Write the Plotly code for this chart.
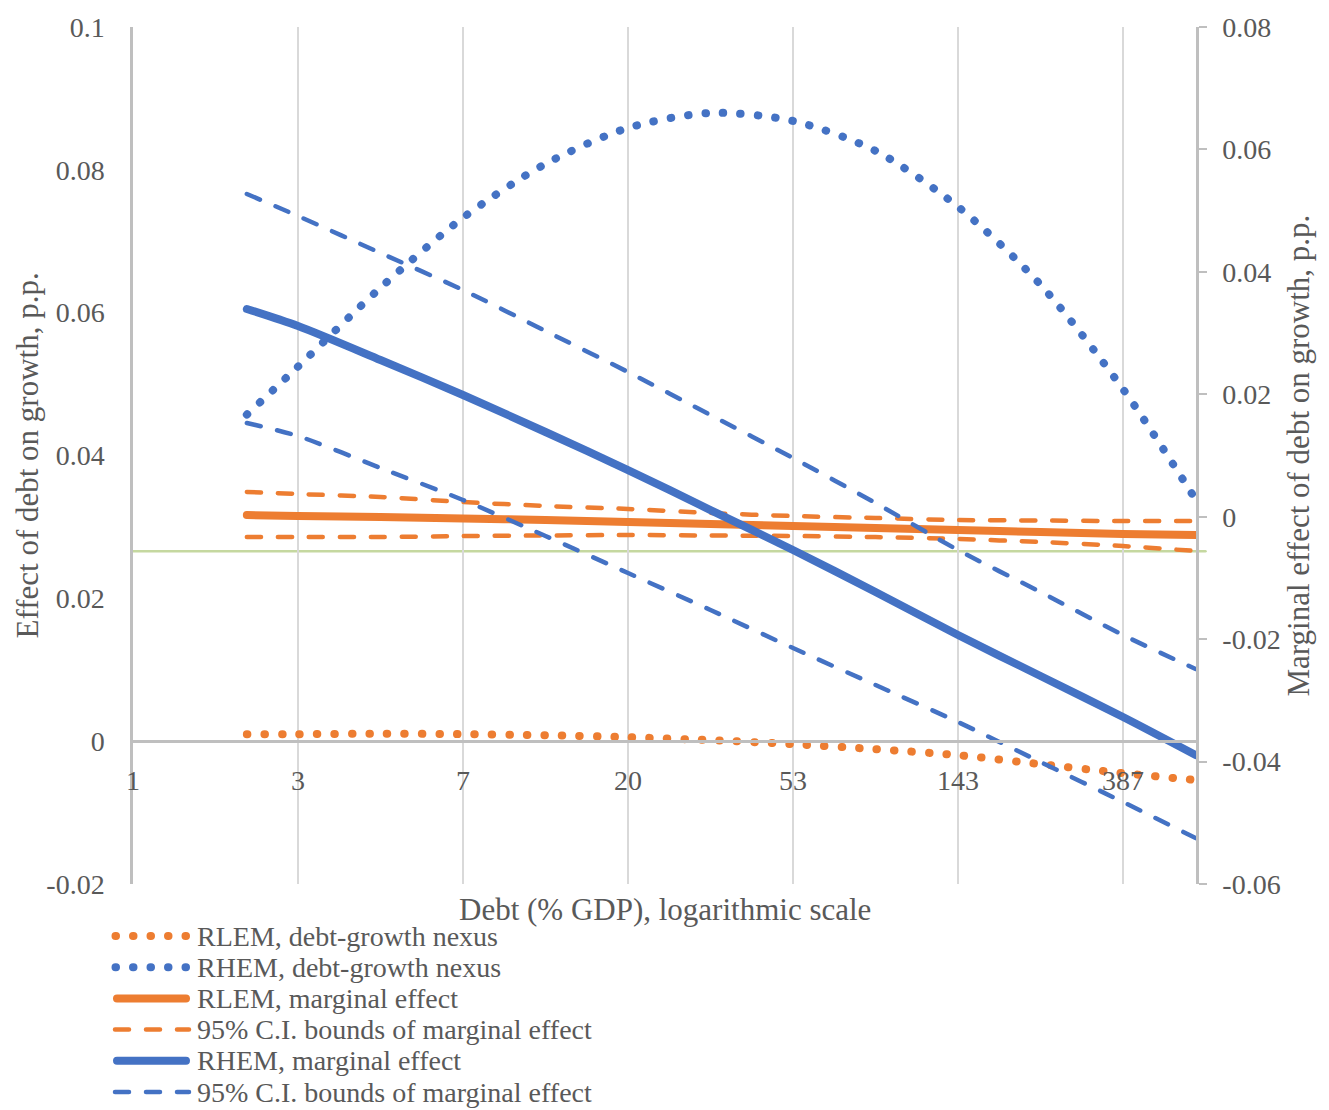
import plotly.graph_objects as go

# Debt on a natural-log scale (ln of debt, % of GDP)
log_debt = [0.69, 1.0, 1.5, 2.0, 2.5, 3.0, 3.5, 4.0, 4.5, 5.0, 5.5, 6.0, 6.44]

# Debt-growth nexus (left axis)
rlem_nexus = [0.00098, 0.00098, 0.00105, 0.00098, 0.00084, 0.00056, 0.00014,
              -0.00042, -0.00112, -0.00196, -0.00322, -0.00448, -0.00545]
rhem_nexus = [0.04573, 0.05245, 0.06350, 0.07329, 0.08084, 0.08587, 0.08797,
              0.08685, 0.08266, 0.07483, 0.06392, 0.04930, 0.03385]

# Marginal effects and 95% confidence bounds (right axis)
rlem_me = [0.00028, 0.00011, -0.00005, -0.00029, -0.00054, -0.00087, -0.00119,
           -0.00152, -0.00185, -0.00217, -0.00250, -0.00283, -0.00299]
rlem_ci_hi = [0.00404, 0.00371, 0.00322, 0.00240, 0.00175, 0.00126, 0.00060,
              0.00011, -0.00021, -0.00054, -0.00062, -0.00070, -0.00070]
rlem_ci_lo = [-0.00332, -0.00332, -0.00332, -0.00315, -0.00307, -0.00299, -0.00307,
              -0.00315, -0.00332, -0.00364, -0.00413, -0.00479, -0.00560]
rhem_me = [0.03393, 0.03115, 0.02560, 0.01988, 0.01384, 0.00763, 0.00109,
           -0.00544, -0.01230, -0.01933, -0.02602, -0.03272, -0.03893]
rhem_ci_hi = [0.05272, 0.04912, 0.04308, 0.03703, 0.03034, 0.02364, 0.01661,
              0.00959, 0.00224, -0.00544, -0.01230, -0.01933, -0.02488]
rhem_ci_lo = [0.01531, 0.01318, 0.00796, 0.00273, -0.00315, -0.00920, -0.01524,
              -0.02145, -0.02749, -0.03354, -0.04007, -0.04661, -0.05249]

# Axis ticks
x_tick_pos = [0, 1, 2, 3, 4, 5, 6]
x_tick_text = ["1", "3", "7", "20", "53", "143", "387"]
left_tick_vals = [-0.02, 0, 0.02, 0.04, 0.06, 0.08, 0.1]
left_tick_text = ["-0.02", "0", "0.02", "0.04", "0.06", "0.08", "0.1"]
right_tick_vals = [-0.06, -0.04, -0.02, 0, 0.02, 0.04, 0.06, 0.08]
right_tick_text = ["-0.06", "-0.04", "-0.02", "0", "0.02", "0.04", "0.06", "0.08"]

reference_level = 0.0266

ORANGE = "#ED7D31"
BLUE = "#4472C4"
GREEN = "#C5D8A0"
TEXT = "#595959"
AXIS = "#BFBFBF"
GRID = "#D9D9D9"
FONT = "Liberation Serif"

DOT = "0.5px,17px"
DASH = "14px,17px"

# name, values, axis, colour, width, dash, shown in legend
series = [
    ("RLEM, debt-growth nexus", rlem_nexus, "y", ORANGE, 8, DOT, True),
    ("RHEM, debt-growth nexus", rhem_nexus, "y", BLUE, 8, DOT, True),
    ("RLEM, marginal effect", rlem_me, "y2", ORANGE, 8, "solid", True),
    ("95% C.I. bounds of marginal effect", rlem_ci_hi, "y2", ORANGE, 4.5, DASH, True),
    ("95% C.I. bounds of marginal effect", rlem_ci_lo, "y2", ORANGE, 4.5, DASH, False),
    ("RHEM, marginal effect", rhem_me, "y2", BLUE, 8, "solid", True),
    ("95% C.I. bounds of marginal effect", rhem_ci_hi, "y2", BLUE, 4.5, DASH, True),
    ("95% C.I. bounds of marginal effect", rhem_ci_lo, "y2", BLUE, 4.5, DASH, False),
]

W, H = 1329, 1110
L, R, T, B = 133, 133, 27, 226
PW, PH = W - L - R, H - T - B


def px_x(p):
    return (p - L) / PW


def px_y(p):
    return (H - B - p) / PH


fig = go.Figure()
for name, vals, ax, col, wid, dash, _ in series:
    fig.add_trace(go.Scatter(
        x=log_debt, y=vals, yaxis=ax, name=name, mode="lines",
        line=dict(color=col, width=wid, dash=dash, shape="spline", smoothing=0.8),
        showlegend=False, hoverinfo="skip",
    ))

shapes = [
    dict(type="line", xref="paper", yref="y", x0=0, x1=px_x(1205.5),
         y0=reference_level, y1=reference_level, layer="below",
         line=dict(color=GREEN, width=2.5)),
]
annotations = []

# Legend drawn below the plot
legend_rows = [(n, c, w, d) for n, _, _, c, w, d, show in series if show]
for i, (name, col, wid, dash) in enumerate(legend_rows):
    row_y = 936 + 31.2 * i
    if dash == "solid":
        x0, x1 = 117, 186
    elif dash == DOT:
        x0, x1 = 115.5, 187
    else:
        x0, x1 = 115, 189
    shapes.append(dict(type="line", xref="paper", yref="paper",
                       x0=px_x(x0), x1=px_x(x1), y0=px_y(row_y), y1=px_y(row_y),
                       line=dict(color=col, width=wid, dash=dash)))
    annotations.append(dict(text=name, xref="paper", yref="paper",
                            x=px_x(196), y=px_y(row_y), xanchor="left", yanchor="middle",
                            showarrow=False, borderpad=0,
                            font=dict(family=FONT, size=28, color=TEXT)))

annotations += [
    dict(text="Debt (% GDP), logarithmic scale", xref="paper", yref="paper",
         x=0.5, y=px_y(910), xanchor="center", yanchor="middle", showarrow=False,
         font=dict(family=FONT, size=31, color=TEXT)),
    dict(text="Effect of debt on growth, p.p.", xref="paper", yref="paper",
         x=px_x(27), y=0.5, xanchor="center", yanchor="middle", textangle=-90,
         showarrow=False, font=dict(family=FONT, size=31, color=TEXT)),
    dict(text="Marginal effect of debt on growth, p.p.", xref="paper", yref="paper",
         x=px_x(1298), y=0.5, xanchor="center", yanchor="middle", textangle=-90,
         showarrow=False, font=dict(family=FONT, size=31, color=TEXT)),
]

fig.update_layout(
    width=W, height=H, autosize=False,
    margin=dict(l=L, r=R, t=T, b=B, pad=0),
    paper_bgcolor="white", plot_bgcolor="white",
    showlegend=False, hovermode=False,
    font=dict(family=FONT, size=28, color=TEXT),
    xaxis=dict(
        range=[0, 6.4424], tickvals=x_tick_pos, ticktext=x_tick_text,
        showgrid=True, gridcolor=GRID, gridwidth=2, zeroline=False,
        showline=True, linecolor=AXIS, linewidth=2.5,
        anchor="free", position=(0 - (-0.02)) / 0.12,
        ticks="", ticklabelstandoff=13,
        tickfont=dict(family=FONT, size=28, color=TEXT),
    ),
    yaxis=dict(
        range=[-0.02, 0.1], tickvals=left_tick_vals, ticktext=left_tick_text,
        showgrid=False, zeroline=False, showline=True, linecolor=AXIS, linewidth=2.5,
        ticks="", ticklabelstandoff=20,
        tickfont=dict(family=FONT, size=28, color=TEXT),
    ),
    yaxis2=dict(
        range=[-0.06, 0.08], tickvals=right_tick_vals, ticktext=right_tick_text,
        overlaying="y", side="right", anchor="x",
        showgrid=False, zeroline=False, showline=True, linecolor=AXIS, linewidth=2.5,
        ticks="outside", ticklen=8, tickwidth=2, tickcolor=AXIS, ticklabelstandoff=10,
        tickfont=dict(family=FONT, size=28, color=TEXT),
    ),
    shapes=shapes,
    annotations=annotations,
)

round_caps = """
var gd = document.getElementById('{plot_id}');
gd.querySelectorAll('path.js-line, .shapelayer path').forEach(function (p) {
    p.style.strokeLinecap = 'round';
});
"""

fig.write_html("out.html", post_script=round_caps)
